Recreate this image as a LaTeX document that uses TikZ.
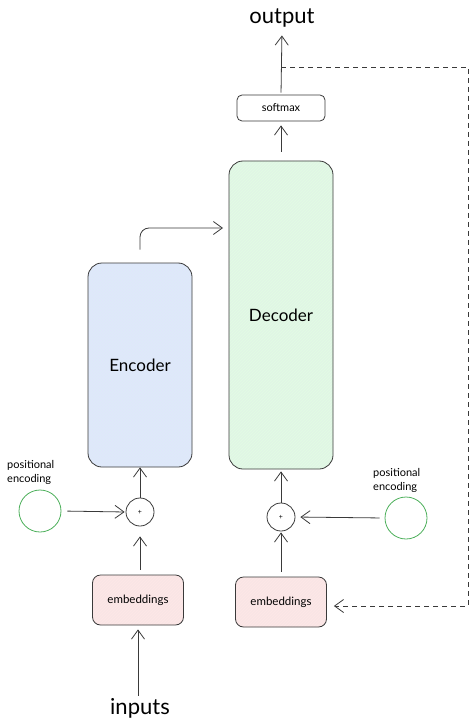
\documentclass[tikz,border=0pt]{standalone}
\usepackage{fontspec}
\setmainfont{Lato}
\usepackage{tikz}
\usetikzlibrary{arrows.meta,patterns,positioning}
\definecolor{encblue}{HTML}{DDEBF8}
\definecolor{decgreen}{HTML}{E0F5E6}
\definecolor{embpink}{HTML}{F9E5E5}
\definecolor{posgreen}{HTML}{4CAF5A}
\definecolor{inkgray}{HTML}{3A3A3A}

\begin{document}
\begin{tikzpicture}[x=1pt, y=-1pt,
    blockbox/.style={draw=inkgray, line width=0.8pt, rounded corners=14pt, minimum width=104pt, font=\fontsize{17}{19}\selectfont},
    embbox/.style={draw=inkgray, line width=0.8pt, rounded corners=8pt, minimum width=91pt, minimum height=50pt, font=\fontsize{11.5}{13}\selectfont},
    plusnode/.style={draw=inkgray, line width=0.8pt, circle, minimum size=28pt, inner sep=0pt, font=\fontsize{7}{8}\selectfont},
    posnode/.style={draw=posgreen, line width=0.8pt, circle, minimum size=42pt, inner sep=0pt},
    postext/.style={align=left, font=\fontsize{11}{14}\selectfont, inner sep=0pt},
    flow/.style={draw=inkgray, line width=0.8pt, -{Straight Barb[length=9pt, width=13pt]}}]
    % Canvas
    \useasboundingbox (0,0) rectangle (474,727);

    % Top: output and softmax
    \node[font=\fontsize{22}{24}\selectfont, inner sep=2pt] (output) at (282,18) {output};
    \node[draw=inkgray, line width=0.8pt, rounded corners=5pt, minimum width=88pt, minimum height=26pt, font=\fontsize{11}{12}\selectfont] (softmax) at (281,108) {softmax};

    % Encoder and decoder stacks
    \node[blockbox, preaction={fill=encblue}, pattern=north east lines, pattern color=encblue!70!blue!30, minimum height=204pt] (enc) at (140,365) {Encoder};
    \node[blockbox, preaction={fill=decgreen}, pattern=north east lines, pattern color=decgreen!70!green!30, minimum height=308pt] (dec) at (281,315) {Decoder};

    % Adders
    \node[plusnode] (addenc) at (140,512) {+};
    \node[plusnode] (adddec) at (281,517) {+};

    % Positional encodings
    \node[posnode] (posenc) at (40,511) {};
    \node[postext, anchor=west] (posenclabel) at (7,472) {positional\\encoding};
    \node[posnode] (posdec) at (406,518) {};
    \node[postext, anchor=west] (posdeclabel) at (373,480) {positional\\encoding};

    % Embeddings
    \node[embbox, preaction={fill=embpink}, pattern=north east lines, pattern color=embpink!70!red!25] (embenc) at (138,600) {embeddings};
    \node[embbox, preaction={fill=embpink}, pattern=north east lines, pattern color=embpink!70!red!25] (embdec) at (281,602) {embeddings};

    % Inputs
    \node[font=\fontsize{22}{24}\selectfont, inner sep=2pt] (inputs) at (140,708) {inputs};

    % Helper points
    \coordinate (bend) at (229,228);
    \coordinate (tap) at (281,67);
    \coordinate (far top) at (468,67);
    \coordinate (far bottom) at (468,606);

    % Encoder side
    \draw[flow, shorten >=4pt] (inputs.north -| embenc.south) -- (embenc.south);
    \draw[flow, shorten <=5pt, shorten >=10pt] (embenc.north -| addenc.south) -- (addenc.south);
    \draw[flow, shorten <=6pt, shorten >=1pt] (posenc.east) -- (addenc.west);
    \draw[flow] (addenc.north) -- (enc.south);
    \draw[flow, rounded corners=9pt, shorten <=13pt, shorten >=6pt] (enc.north) |- (bend);

    % Decoder side
    \draw[flow, shorten <=5pt, shorten >=1pt] (embdec.north) -- (adddec.south);
    \draw[flow, shorten <=5pt, shorten >=5pt] (posdec.west) -- (adddec.east);
    \draw[flow, shorten >=2pt] (adddec.north) -- (dec.south);
    \draw[flow, shorten <=9pt, shorten >=4pt] (dec.north) -- (softmax.south);
    \draw[flow, shorten <=2pt, shorten >=6pt] (softmax.north) -- (output.south);

    % Feedback of the output
    \draw[draw=inkgray, line width=0.8pt, dashed, dash pattern=on 5pt off 4pt, -{Straight Barb[length=9pt, width=13pt]}, shorten >=7pt]
        (tap) -- (far top) -- (far bottom) -- (embdec.east |- far bottom);
\end{tikzpicture}
\end{document}
